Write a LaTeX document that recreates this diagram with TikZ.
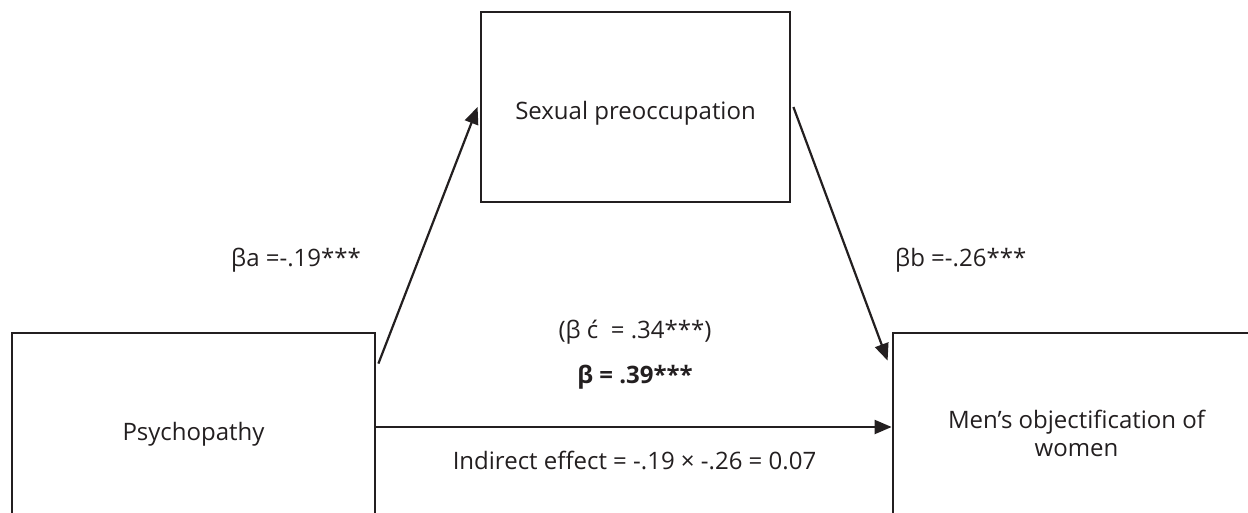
\documentclass[tikz,border=0pt]{standalone}
\usepackage{fontspec}
\setmainfont{Open Sans}
\usetikzlibrary{arrows.meta}
\definecolor{ink}{HTML}{231F20}
\tikzset{
  box/.style={draw=ink, line width=2.8pt, text=ink, align=center, inner sep=0pt, font=\fontsize{24}{28}\selectfont},
  lab/.style={text=ink, inner sep=0pt, font=\fontsize{24}{28}\selectfont},
  arr/.style={draw=ink, line width=2.2pt, -{Triangle[length=17pt,width=14pt]}}
}
\begin{document}
\begin{tikzpicture}[x=1pt,y=-1pt]
\clip (0,0) rectangle (1248,513);
\fill[white] (0,0) rectangle (1248,513);
\node[box, minimum width=363pt, minimum height=200pt] (psy) at (193.5,433) {\raisebox{-7pt}[0pt][0pt]{Psychopathy}};
\node[box, minimum width=309pt, minimum height=190pt] (sex) at (635.5,107) {\raisebox{-13pt}[0pt][0pt]{Sexual preoccupation}};
\node[box, minimum width=367pt, minimum height=200pt] (men) at (1076.5,433) {Men’s objectification of\\women};
\draw[arr] ([xshift=2pt,yshift=-32pt]psy.north east) -- ([xshift=-2pt]sex.west);
\draw[arr] ([xshift=2pt]sex.east) -- ([xshift=-4pt,yshift=-29pt]men.north west);
\draw[arr] ([yshift=6pt]psy.east) -- ([yshift=6pt]men.west);
\node[lab, anchor=base west] (la) at (231,267) {βa =-.19***};
\node[lab, anchor=base west] (lb) at (895,267) {βb =-.26***};
\node[lab, anchor=base] (lc) at (635,338) {(β ć\ \ = .34***)};
\node[lab, anchor=base, font=\fontsize{24}{28}\selectfont\bfseries] (ld) at (635,383) {β = .39***};
\node[lab, anchor=base] (le) at (634.5,469) {Indirect effect = -.19 × -.26 = 0.07};
\end{tikzpicture}
\end{document}
